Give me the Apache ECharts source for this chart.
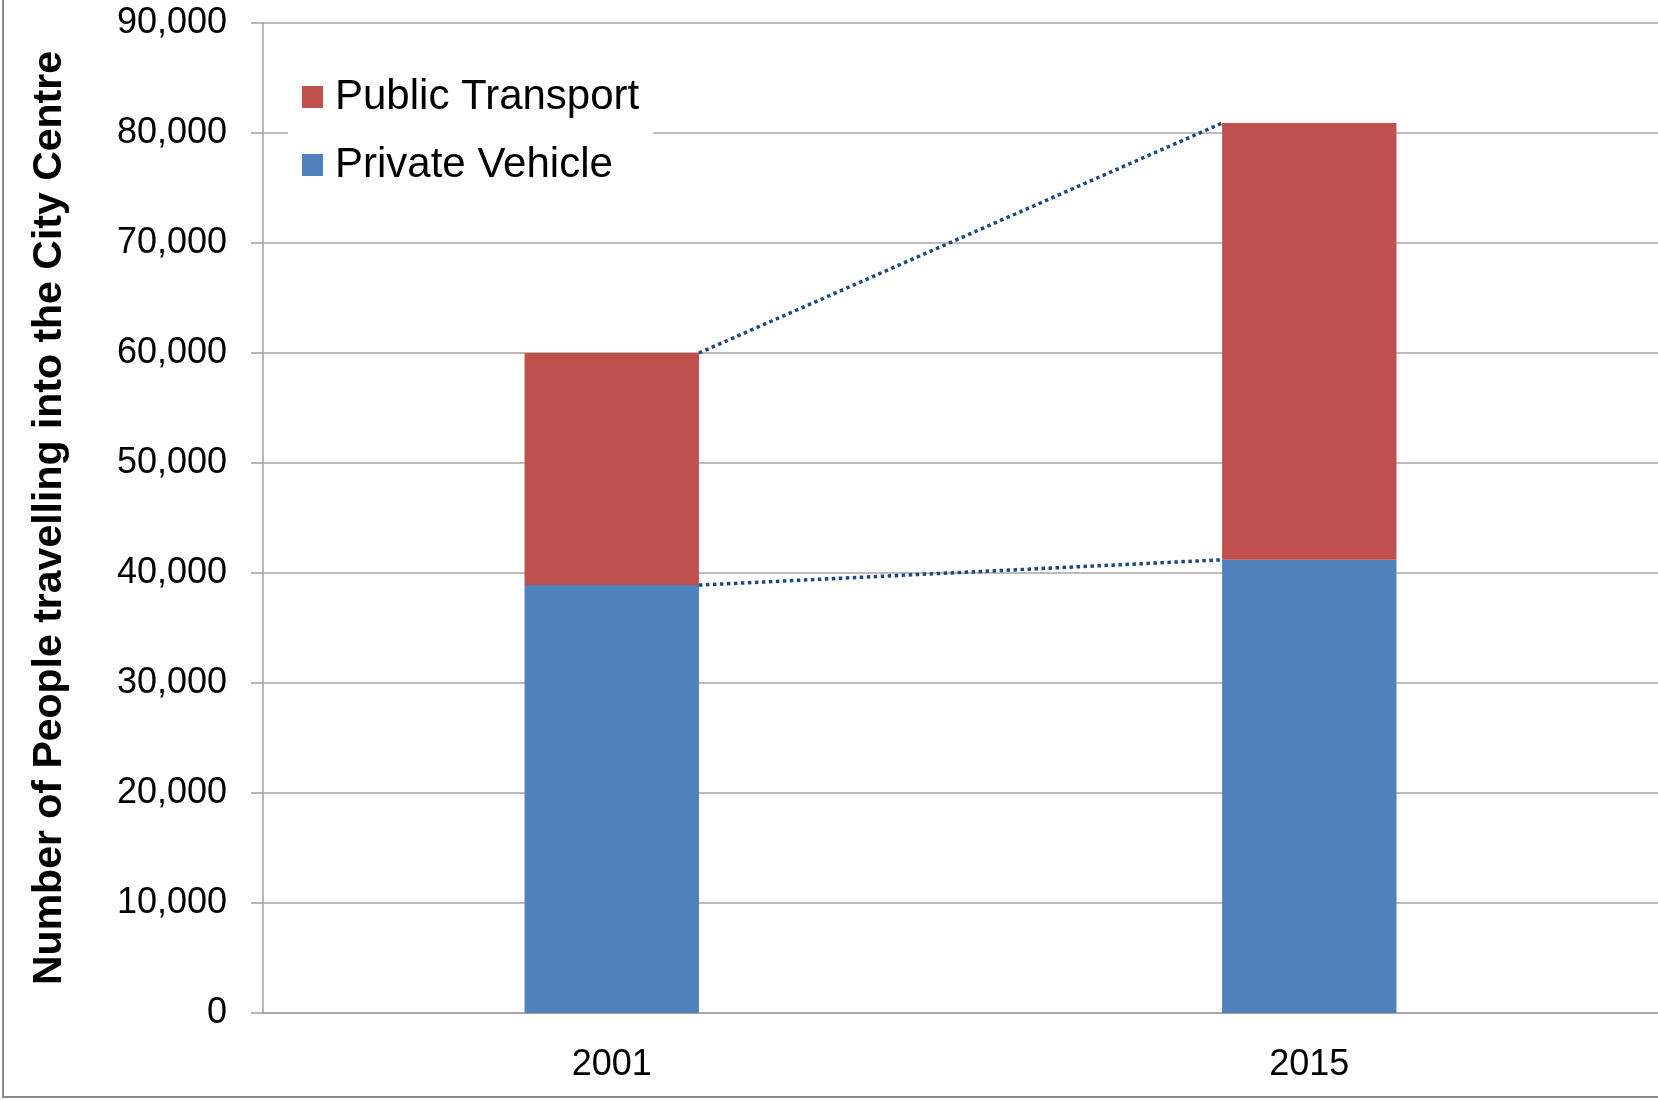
<!DOCTYPE html>
<html>
<head>
<meta charset="utf-8">
<script src="https://cdn.jsdelivr.net/npm/echarts@6/dist/echarts.min.js"></script>
<style>
html,body{margin:0;padding:0;background:#fff;}
#chart{width:1658px;height:1100px;}
</style>
</head>
<body>
<div id="chart"></div>
<script>
var years = ['2001', '2015'];
var privateVehicle = [38900, 41200];
var publicTransport = [21100, 39700];
var yTicks = [0, 10000, 20000, 30000, 40000, 50000, 60000, 70000, 80000, 90000];

var chart = echarts.init(document.getElementById('chart'));
var font = 'Liberation Sans, Arial, sans-serif';
var half = 0.125; // half bar width in band units (bar = 25% of band)

// connector points from the right edge of one bar to the left edge of the next
var totals = years.map(function (y, i) { return privateVehicle[i] + publicTransport[i]; });
function connector(vals) {
    var pts = [];
    for (var i = 0; i < vals.length - 1; i++) {
        pts.push([i + 0.5 + half, vals[i]]);
        pts.push([i + 1.5 - half, vals[i + 1]]);
    }
    return pts;
}

var option = {
    animation: false,
    backgroundColor: '#fff',
    grid: { left: 263, width: 1399, top: 23, bottom: 87 },
    legend: {
        left: 288, top: 64,
        orient: 'vertical',
        backgroundColor: '#fff',
        padding: [10, 14, 10, 14],
        itemWidth: 21, itemHeight: 22, itemGap: 22,
        icon: 'rect',
        data: ['Public Transport', 'Private Vehicle'],
        textStyle: { fontFamily: font, fontSize: 42, color: '#000', lineHeight: 46, padding: [0, 0, 0, 7] }
    },
    xAxis: [{
        type: 'category',
        data: years,
        axisLine: { lineStyle: { color: '#A0A0A0', width: 1.5 } },
        axisTick: { show: false },
        axisLabel: { fontFamily: font, fontSize: 36, color: '#000', margin: 34 }
    }, {
        type: 'value', min: 0, max: years.length, show: false
    }],
    yAxis: {
        type: 'value', min: 0, max: 90000, interval: 10000,
        name: 'Number of People travelling into the City Centre',
        nameLocation: 'middle', nameRotate: 90, nameGap: 193,
        nameTextStyle: { fontFamily: font, fontSize: 41, fontWeight: 'bold', color: '#000' },
        axisLine: { show: true, lineStyle: { color: '#A0A0A0', width: 1.5 } },
        axisTick: { show: true, length: 12, lineStyle: { color: '#A0A0A0', width: 1.5 } },
        splitLine: { lineStyle: { color: '#A6A6A6', width: 1.5 } },
        axisLabel: {
            fontFamily: font, fontSize: 36, color: '#000', margin: 36,
            formatter: function (v) { return yTicks.indexOf(v) >= 0 ? v.toLocaleString('en-US') : ''; }
        }
    },
    series: [{
        name: 'Private Vehicle', type: 'bar', stack: 'total', barWidth: '25%',
        itemStyle: { color: '#4F81BD' }, data: privateVehicle
    }, {
        name: 'Public Transport', type: 'bar', stack: 'total', barWidth: '25%',
        itemStyle: { color: '#C0504D' }, data: publicTransport
    }, {
        type: 'line', xAxisIndex: 1, symbol: 'none', silent: true,
        lineStyle: { type: 'dotted', width: 3.5, color: '#1F497D' },
        data: connector(totals)
    }, {
        type: 'line', xAxisIndex: 1, symbol: 'none', silent: true,
        lineStyle: { type: 'dotted', width: 3.5, color: '#1F497D' },
        data: connector(privateVehicle)
    }],
    graphic: [{
        type: 'rect', silent: true, z: 100,
        shape: { x: 3, y: -10, width: 1700, height: 1107 },
        style: { fill: 'none', stroke: '#8C8C8C', lineWidth: 2 }
    }]
};
chart.setOption(option);
</script>
</body>
</html>
